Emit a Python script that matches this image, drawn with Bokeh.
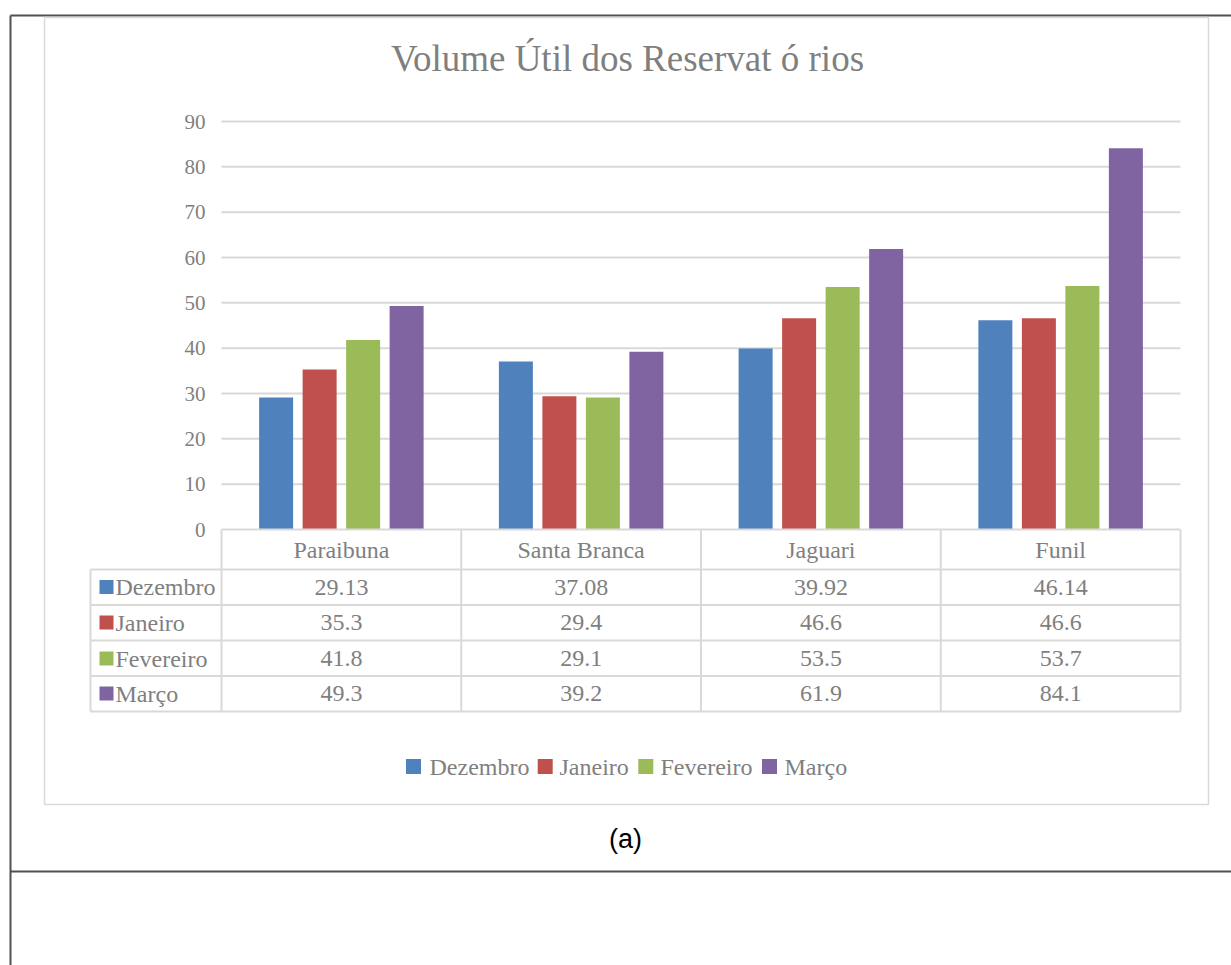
from bokeh.plotting import figure
from bokeh.models import Range1d, ColumnDataSource
from bokeh.core.properties import value
from bokeh.embed import file_html
from bokeh.resources import INLINE

# ---------------- data ----------------
categories = ["Paraibuna", "Santa Branca", "Jaguari", "Funil"]
series_names = ["Dezembro", "Janeiro", "Fevereiro", "Março"]
dezembro = [29.13, 37.08, 39.92, 46.14]
janeiro = [35.3, 29.4, 46.6, 46.6]
fevereiro = [41.8, 29.1, 53.5, 53.7]
marco = [49.3, 39.2, 61.9, 84.1]
series_values = [dezembro, janeiro, fevereiro, marco]
y_ticks = [0, 10, 20, 30, 40, 50, 60, 70, 80, 90]
title_text = "Volume Útil dos Reservat ó rios"
caption_text = "(a)"

# ---------------- style / layout ----------------
colors = ["#4F81BD", "#C0504D", "#9BBB59", "#8064A2"]
TXT = "#7F7F7F"
GRID = "#D9D9D9"
SERIF = value("Liberation Serif")
SANS = value("Liberation Sans")

W, H = 1231, 965
PLOT_L = 221.0
CAT_W = 239.75
Y0_PX = 529.0
PX_PER_UNIT = (529.0 - 121.0) / 90.0
BAR_W_PX = 34.0
BAR_STEP_PX = 43.5


def px2x(px):
    return (px - PLOT_L) / CAT_W


def px2y(py):
    return (Y0_PX - py) / PX_PER_UNIT


p = figure(width=W, height=H, output_backend="svg", toolbar_location=None,
           x_range=Range1d(px2x(0), px2x(W)), y_range=Range1d(px2y(H), px2y(0)),
           x_axis_location=None, y_axis_location=None, min_border=0,
           outline_line_color=None, tools="")
p.xgrid.visible = False
p.ygrid.visible = False
p.background_fill_color = "white"
p.border_fill_color = "white"

# outer page frame
p.segment(x0=[px2x(10), px2x(10), px2x(10)], y0=[px2y(15), px2y(15), px2y(871)],
          x1=[px2x(W + 5), px2x(10), px2x(W + 5)], y1=[px2y(15), px2y(H + 5), px2y(871)],
          line_color="#505050", line_width=2)

# chart area box
p.quad(left=[px2x(44)], right=[px2x(1208)], top=[px2y(17)], bottom=[px2y(804)],
       fill_color="white", line_color=GRID, line_width=1.5)

# gridlines
n_cat = len(categories)
gt = [t for t in y_ticks if t > 0]
p.segment(x0=[0] * len(gt), x1=[n_cat] * len(gt), y0=gt, y1=gt,
          line_color=GRID, line_width=2)

# tick labels
p.text(x=[px2x(205)] * len(y_ticks), y=y_ticks, text=[str(t) for t in y_ticks],
       text_align="right", text_baseline="middle", text_font=SERIF,
       text_font_size="21px", text_color=TXT)

# bars
for k, (name, vals) in enumerate(zip(series_names, series_values)):
    off = (k - 1.5) * BAR_STEP_PX / CAT_W
    src = ColumnDataSource(dict(x=[i + 0.5 + off for i in range(n_cat)], top=vals))
    p.vbar(x="x", top="top", bottom=0, width=BAR_W_PX / CAT_W, source=src,
           fill_color=colors[k], line_color=None)

# data table
row_lines_px = [569, 604.5, 640, 675.5, 711]
row_centers_px = [586.5, 622, 658, 693]
header_center_px = 549
# horizontal lines
p.segment(x0=[0], x1=[n_cat], y0=[0], y1=[0], line_color=GRID, line_width=2)
p.segment(x0=[px2x(90)] * len(row_lines_px), x1=[n_cat] * len(row_lines_px),
          y0=[px2y(r) for r in row_lines_px], y1=[px2y(r) for r in row_lines_px],
          line_color=GRID, line_width=2)
# vertical lines
p.segment(x0=list(range(n_cat + 1)), x1=list(range(n_cat + 1)),
          y0=[0] * (n_cat + 1), y1=[px2y(711)] * (n_cat + 1),
          line_color=GRID, line_width=2)
p.segment(x0=[px2x(90)], x1=[px2x(90)], y0=[px2y(569)], y1=[px2y(711)],
          line_color=GRID, line_width=2)
# header text
p.text(x=[i + 0.5 for i in range(n_cat)], y=[px2y(header_center_px)] * n_cat,
       text=categories, text_align="center", text_baseline="middle",
       text_font=SERIF, text_font_size="24px", text_color=TXT)
# values
for k, vals in enumerate(series_values):
    p.text(x=[i + 0.5 for i in range(n_cat)], y=[px2y(row_centers_px[k])] * n_cat,
           text=[str(v) for v in vals], text_align="center", text_baseline="middle",
           text_font=SERIF, text_font_size="24px", text_color=TXT)
# row keys
p.rect(x=[px2x(106)] * 4, y=[px2y(c) for c in row_centers_px],
       width=14 / CAT_W, height=14 / PX_PER_UNIT, fill_color=colors, line_color=None)
p.text(x=[px2x(115)] * 4, y=[px2y(c) for c in row_centers_px], text=series_names,
       text_align="left", text_baseline="middle", text_font=SERIF,
       text_font_size="24px", text_color=TXT)

# legend
leg_sq_px = [413, 544.7, 645.3, 769]
leg_tx_px = [429, 559, 660, 784]
LEG_Y = 766
p.rect(x=[px2x(v) for v in leg_sq_px], y=[px2y(LEG_Y)] * 4, width=15 / CAT_W,
       height=15 / PX_PER_UNIT, fill_color=colors, line_color=None)
p.text(x=[px2x(v) for v in leg_tx_px], y=[px2y(LEG_Y)] * 4, text=series_names,
       text_align="left", text_baseline="middle", text_font=SERIF,
       text_font_size="24px", text_color=TXT)

# title
p.text(x=[px2x(627)], y=[px2y(58)], text=[title_text], text_align="center",
       text_baseline="middle", text_font=SERIF, text_font_size="37px", text_color=TXT)

# caption
p.text(x=[px2x(625)], y=[px2y(838)], text=[caption_text], text_align="center",
       text_baseline="middle", text_font=SANS, text_font_size="27px", text_color="black")

open("out.html", "w").write(file_html(p, INLINE))
